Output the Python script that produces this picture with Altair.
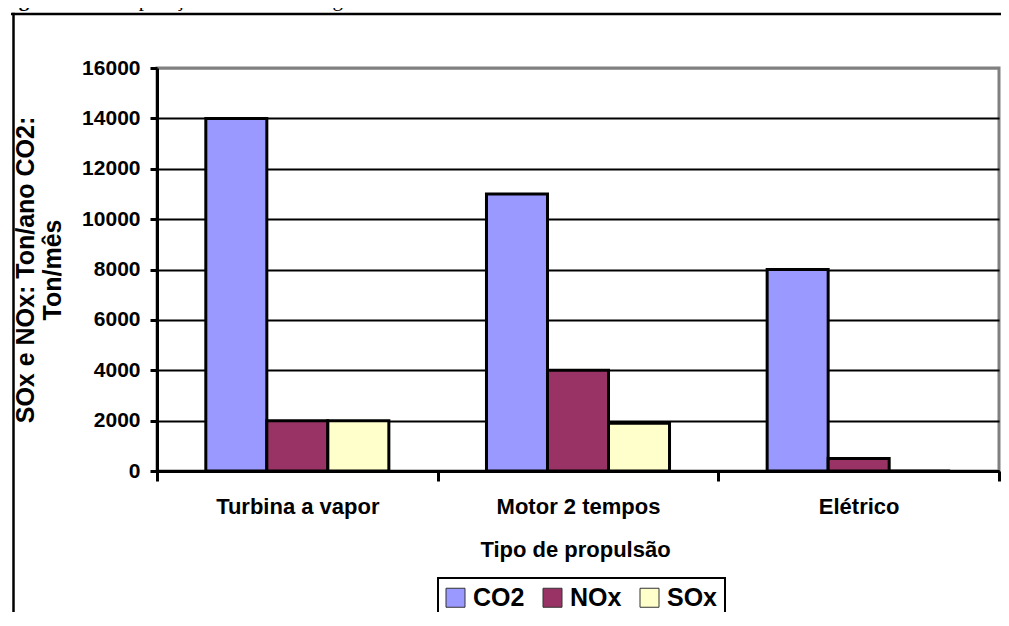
import altair as alt
import pandas as pd

# ---- data ----
categories = ["Turbina a vapor", "Motor 2 tempos", "Elétrico"]
gases = ["CO2", "NOx", "SOx"]
co2 = [14000, 11000, 8000]
nox = [2000, 4000, 500]
sox = [2000, 1900, 0]
y_ticks = [0, 2000, 4000, 6000, 8000, 10000, 12000, 14000, 16000]
colors = ["#9999FF", "#993366", "#FFFFCC"]
y_title = ["SOx e NOx: Ton/ano CO2:", "Ton/mês"]
x_title = "Tipo de propulsão"
fig_bold = "Figura 24:"
fig_rest = "Comparação da emissão de gases na Atmosfera."

rows = []
for i, c in enumerate(categories):
    for g, vals in zip(gases, [co2, nox, sox]):
        rows.append({"cat": c, "gas": g, "val": vals[i]})
df = pd.DataFrame(rows)

FONT = "Liberation Sans"
SERIF = "Liberation Serif"

W, H = 842, 403

bars = alt.Chart(df).mark_bar(stroke="black", strokeWidth=3).encode(
    x=alt.X(
        "cat:N",
        sort=categories,
        scale=alt.Scale(paddingInner=0, paddingOuter=0),
        axis=alt.Axis(
            title=x_title,
            labelAngle=0,
            labelFont=FONT,
            labelFontSize=22,
            labelFontWeight="bold",
            labelColor="black",
            labelPadding=15,
            tickBand="extent",
            tickSize=10,
            tickWidth=3,
            tickColor="black",
            domainColor="black",
            domainWidth=3,
            grid=False,
            titleFont=FONT,
            titleFontSize=22,
            titleFontWeight="bold",
            titleColor="black",
            titleBaseline="top",
            titleX=418,
            titleY=68,
        ),
    ),
    xOffset=alt.XOffset(
        "gas:N", sort=gases, scale=alt.Scale(paddingInner=0, paddingOuter=0.8)
    ),
    y=alt.Y(
        "val:Q",
        scale=alt.Scale(domain=[0, 16000], nice=False),
        axis=alt.Axis(
            title=y_title,
            values=y_ticks,
            format="d",
            labelFont=FONT,
            labelFontSize=21,
            labelFontWeight="bold",
            labelColor="black",
            labelPadding=10,
            tickSize=7,
            tickWidth=3,
            tickColor="black",
            domainColor="black",
            domainWidth=3,
            gridColor={
                "condition": {"test": "datum.value == 16000", "value": "#808080"},
                "value": "black",
            },
            gridWidth=2,
            titleFont=FONT,
            titleFontSize=25,
            titleFontWeight="bold",
            titleColor="black",
            titleAngle=270,
            titleAlign="center",
            titleBaseline="bottom",
            titleLineHeight=27,
            titleX=-119,
            titleY=201.5,
        ),
    ),
    color=alt.Color(
        "gas:N",
        sort=gases,
        scale=alt.Scale(domain=gases, range=colors),
        legend=alt.Legend(
            title=None,
            orient="none",
            legendX=283,
            legendY=514,
            direction="horizontal",
            padding=3,
            symbolType="square",
            symbolSize=361,
            symbolStrokeColor="#333333",
            symbolStrokeWidth=1,
            labelFont=FONT,
            labelFontSize=25,
            labelFontWeight="bold",
            labelColor="black",
            labelOffset=5,
            columnPadding=15,
        ),
    ),
)

# decorative frame of the figure (top and left edges) and legend box
frame_top = alt.Chart(pd.DataFrame({"k": [0]})).mark_rule(
    color="black", strokeWidth=2.5, clip=False
).encode(x=alt.value(-146), x2=alt.value(850), y=alt.value(-54))

frame_left = alt.Chart(pd.DataFrame({"k": [0]})).mark_rule(
    color="black", strokeWidth=2.5, clip=False
).encode(x=alt.value(-143.5), y=alt.value(-55.25), y2=alt.value(560))

leg_top = alt.Chart(pd.DataFrame({"k": [0]})).mark_rule(
    color="black", strokeWidth=2, clip=False
).encode(x=alt.value(280), x2=alt.value(569), y=alt.value(510))

leg_left = alt.Chart(pd.DataFrame({"k": [0]})).mark_rule(
    color="black", strokeWidth=2, clip=False
).encode(x=alt.value(281), y=alt.value(509), y2=alt.value(560))

leg_right = alt.Chart(pd.DataFrame({"k": [0]})).mark_rule(
    color="black", strokeWidth=2, clip=False
).encode(x=alt.value(568), y=alt.value(509), y2=alt.value(560))

t1 = alt.Chart(pd.DataFrame({"t": [fig_bold]})).mark_text(
    font=SERIF, fontSize=21, fontWeight="bold", align="left",
    baseline="alphabetic", color="black"
).encode(x=alt.value(-157), y=alt.value(-62), text="t:N")

t2 = alt.Chart(pd.DataFrame({"t": [fig_rest]})).mark_text(
    font=SERIF, fontSize=21, align="left",
    baseline="alphabetic", color="black"
).encode(x=alt.value(-59), y=alt.value(-62), text="t:N")

chart = (
    alt.layer(bars, frame_top, frame_left, leg_top, leg_left, leg_right, t1, t2)
    .properties(
        width=W,
        height=H,
        padding={"left": 149, "top": 60, "right": 2, "bottom": 141},
        autosize=alt.AutoSizeParams(type="none"),
        background="white",
    )
    .configure_view(stroke="#808080", strokeWidth=3)
)

chart.save("out.html", embed_options={"renderer": "svg", "actions": False})
